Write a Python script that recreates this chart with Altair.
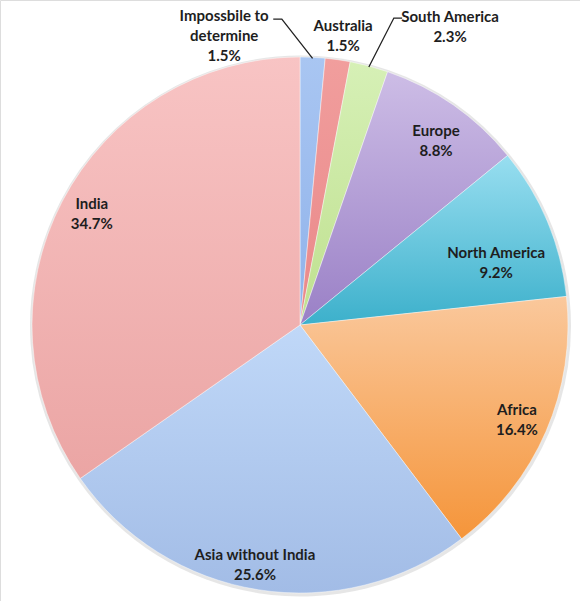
import math
import altair as alt
import pandas as pd

# ---- data ----
categories = ["Impossbile to determine", "Australia", "South America", "Europe",
              "North America", "Africa", "Asia without India", "India"]
shares = [1.5, 1.5, 2.3, 8.8, 9.2, 16.4, 25.6, 34.7]

# ---- style / layout ----
grad_top = ["#a9c6f2", "#f19e9d", "#d6f0b6", "#cdbde6", "#98def0", "#fac89c", "#c0d8f8", "#f8c4c4"]
grad_bot = ["#8fb2ea", "#e98889", "#bfe08f", "#9a80c6", "#3cb0cb", "#f5953a", "#a2bce6", "#eba5a4"]
# polar position (radius px, degrees away from slice middle) of each label's first line
label_radius = [318, 302, 343, 237, 209, 233, 234, 241]
label_angle_off = [-16.5, 0.1, 11.0, 0.1, 2.5, -2.0, 2.1, 2.7]
CX, CY, R = 300, 325, 268
W, H = 580, 601

df = pd.DataFrame({"cat": categories, "share": shares, "idx": list(range(len(categories)))})
df["label"] = [c.replace("to ", "to\n") + "\n" + f"{s:.1f}%" for c, s in zip(categories, shares)]
df["lr"] = label_radius
df["loff"] = [a / 3.6 for a in label_angle_off]

theta_scale = alt.Scale(domain=[0, 100], range=[0, 2 * math.pi])
base = alt.Chart(df).transform_window(
    cum="sum(share)", frame=[None, 0], sort=[alt.SortField("idx")]
).transform_calculate(start="datum.cum - datum.share")

# soft shadow ring behind the pie
shadow = base.mark_arc(outerRadius=R + 2.5, fill="#c8c8c8", opacity=0.45).encode(
    theta=alt.Theta("start:Q", scale=theta_scale),
    theta2="cum:Q",
    x=alt.value(CX + 0.5), y=alt.value(CY + 1),
)

layers = [shadow]
for i, c in enumerate(categories):
    grad = {"gradient": "linear", "x1": 0, "y1": 0, "x2": 0, "y2": 1,
            "stops": [{"offset": 0, "color": grad_top[i]}, {"offset": 1, "color": grad_bot[i]}]}
    layers.append(
        base.transform_filter(alt.datum.cat == c).mark_arc(
            outerRadius=R, fill=grad, stroke="#ffffff", strokeWidth=0.6, strokeOpacity=0.7
        ).encode(
            theta=alt.Theta("start:Q", scale=theta_scale),
            theta2="cum:Q",
            x=alt.value(CX), y=alt.value(CY),
        )
    )

labels = base.transform_calculate(
    lmid="datum.start + datum.share / 2 + datum.loff"
).mark_text(
    font="Lato", fontWeight="bold", fontSize=15, color="#1e1e1e",
    lineBreak="\n", lineHeight=20, align="center", baseline="middle"
).encode(
    theta=alt.Theta("lmid:Q", scale=theta_scale),
    radius=alt.Radius("lr:Q", scale=None),
    x=alt.value(CX), y=alt.value(CY),
    text="label:N",
)

# leader lines for the two labels moved away from their slices
def polar(deg, r):
    a = math.radians(deg)
    return CX + r * math.sin(a), CY - r * math.cos(a)

cum = 0
mids = []
for s in shares:
    mids.append((cum + s / 2) * 3.6)
    cum += s

leader_rows = []
leader_spec = {0: [(-5.0, 307), (-3.4, 306.5)], 2: [(18.4, 323.5), (17.0, 321)]}
for ci, pts in leader_spec.items():
    seq = pts + [(mids[ci], R - 1)]
    for k, (ang, rr) in enumerate(seq):
        x, y = polar(ang, rr)
        leader_rows.append({"g": ci, "k": k, "px": x, "py": y})
ldf = pd.DataFrame(leader_rows)
leaders = alt.Chart(ldf).mark_line(color="#222222", strokeWidth=1.3).encode(
    x=alt.X("px:Q", scale=None), y=alt.Y("py:Q", scale=None),
    detail="g:N", order="k:Q",
)

chart = alt.layer(*layers, leaders, labels).properties(
    width=W, height=H, autosize=alt.AutoSizeParams(type="none"), padding=0
).configure_view(stroke=None).configure(background="#ffffff")

chart.save("out.html", embed_options={"renderer": "svg", "actions": False})
